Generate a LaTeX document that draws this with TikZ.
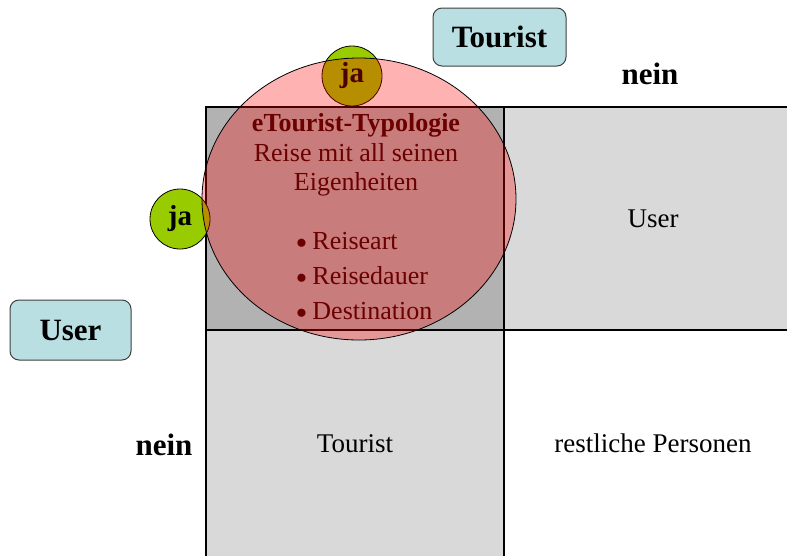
\documentclass[tikz,border=0pt]{standalone}
\usepackage{fontspec}
\setmainfont{Liberation Serif}
\usetikzlibrary{shapes.geometric}

\definecolor{cellgray}{HTML}{B2B2B2}
\definecolor{celllight}{HTML}{D9D9D9}
\definecolor{headblue}{HTML}{B9DFE3}
\definecolor{yesgreen}{HTML}{99CC00}
\definecolor{typored}{HTML}{6B0000}

\newcommand{\typobullet}{\raisebox{-5pt}{\fontsize{34}{34}\selectfont\textbullet}\hspace{5pt}}

\begin{document}
\begin{tikzpicture}[x=1pt,y=-1pt,
    cell/.style={draw,line width=2pt,minimum width=298pt,minimum height=223pt,inner sep=0pt,font=\fontsize{27}{31}\selectfont},
    head/.style={draw=black!75,fill=headblue,rounded corners=9pt,line width=1pt,inner sep=0pt,font=\fontsize{31}{34}\selectfont\bfseries},
    answer/.style={font=\fontsize{31}{34}\selectfont\bfseries},
    yes node/.style={circle,draw,line width=0.8pt,fill=yesgreen,minimum size=60pt,inner sep=0pt,font=\fontsize{29}{30}\selectfont\bfseries},
    typo/.style={font=\fontsize{26}{29.5}\selectfont,text=typored}]
    \clip (0,0) rectangle (787,555);

    \node[cell,fill=cellgray] (both) at (355,218.5) {};
    \node[cell,fill=celllight] (user) at (653,218.5) {User};
    \node[cell,fill=celllight,minimum height=227pt] (tourist) at (355,443.5) {Tourist};
    \node[cell,fill=white,minimum height=227pt] (rest) at (653,443.5) {restliche Personen};

    \node[head,minimum width=133pt,minimum height=58pt] (touristhead) at (499.5,37) {Tourist};
    \node[head,minimum width=121pt,minimum height=60pt] (userhead) at (70.5,330) {User};
    \node[answer] (neintop) at (650,74) {nein};
    \node[answer] (neinleft) at (164,445) {nein};

    \node[yes node] (jatop) at (352,76) {ja};
    \node[yes node] (jaleft) at (180,219) {ja};

    \node[ellipse,draw,line width=0.8pt,fill=red,fill opacity=0.3,minimum width=314pt,minimum height=282pt] (typology) at (359,199) {};
    \node[typo,align=center] (typohead) at (356,155) {\textbf{eTourist-Typologie}\\Reise mit all seinen\\Eigenheiten};
    \node[typo,font=\fontsize{26}{35}\selectfont,align=left,anchor=west] (typolist) at (292,278)
        {\typobullet Reiseart\\\typobullet Reisedauer\\\typobullet Destination};
\end{tikzpicture}
\end{document}
